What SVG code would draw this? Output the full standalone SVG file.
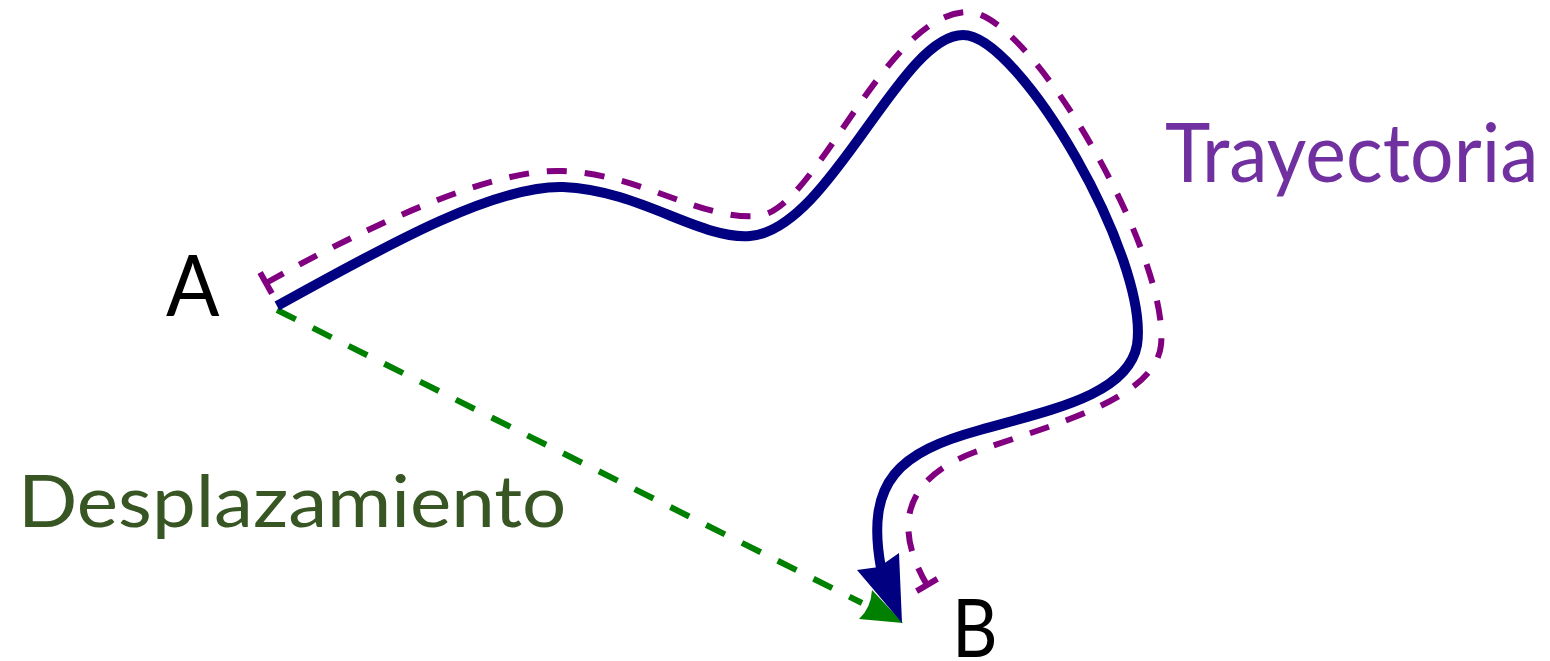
<svg xmlns="http://www.w3.org/2000/svg" width="1550" height="661" viewBox="0 0 1550 661">
<defs>
<style>
.lbl{font-family:Lato,"Open Sans","Liberation Sans",sans-serif;}
.path{fill:none;stroke:#000080;stroke-width:10;stroke-linecap:butt;}
.traj{fill:none;stroke:#800080;stroke-width:6;stroke-dasharray:20 18;}
.disp{fill:none;stroke:#008000;stroke-width:6;stroke-dasharray:21 19;}
</style>
<marker id="tbar" markerUnits="userSpaceOnUse" markerWidth="40" markerHeight="40" refX="20" refY="20" orient="auto" viewBox="0 0 40 40">
<line x1="20" y1="8" x2="20" y2="32" stroke="#800080" stroke-width="6"/>
</marker>
</defs>
<g id="connectors">
<path id="trayectoria" class="traj" marker-start="url(#tbar)" marker-end="url(#tbar)" d="M266,283 C360,230 490,168 563,171 C640,174 700,220 757,216 C815,214 885,12 968,12 C1030,12 1170,255 1161,345 C1155,400 1050,425 975,452 C900,480 895,530 927,585"/>
<path id="desplazamiento" class="disp" d="M277,310 L862,603"/>
<path id="green-head" fill="#008000" d="M903,623 L859,619 Q871,608 872,590 Z"/>
<path id="recorrido" class="path" d="M277,306 C370,255 490,185 563,187 C640,190 700,240 750,236 C830,230 900,35 963,35 C1020,35 1150,260 1137,345 C1128,395 1050,410 980,430 C900,452 865,480 881,568"/>
<path id="blue-head" fill="#000080" d="M902,623 L857,570 L879,567 L899,553 Z"/>
</g>
<g id="node-A"><text class="lbl" transform="translate(166,316) scale(0.93,1)" font-size="85" fill="#000">A</text></g>
<g id="node-B"><text class="lbl" transform="translate(952,657) scale(0.86,1)" font-size="82" fill="#000">B</text></g>
<g id="label-trayectoria"><text class="lbl" transform="translate(1165,182) scale(0.95,1)" font-size="81" fill="#7030A0">Trayectoria</text></g>
<g id="label-desplazamiento"><text class="lbl" transform="translate(18,527) scale(1.1,1)" font-size="71" fill="#375623">Desplazamiento</text></g>
</svg>
